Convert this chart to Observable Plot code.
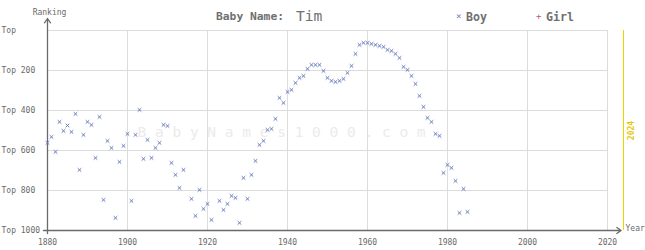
<!DOCTYPE html>
<html><head><meta charset="utf-8">
<script src="https://cdn.jsdelivr.net/npm/d3@7"></script>
<script src="https://cdn.jsdelivr.net/npm/@observablehq/plot@0.6"></script>
<style>
body{margin:0;background:#fff;}
#wrap{position:relative;width:645px;height:250px;font-family:"DejaVu Sans Mono",monospace;}
.t{position:absolute;white-space:nowrap;color:#707070;line-height:14px;}
</style></head><body><div id="wrap"></div>
<script>
const babyName = "Tim";
const currentYear = 2024;
const watermark = "BabyNames1000.com";
const xTicks = [1880, 1900, 1920, 1940, 1960, 1980, 2000, 2020];
const yTicks = [0, 200, 400, 600, 800, 1000];
const yTickLabels = ["Top", "Top 200", "Top 400", "Top 600", "Top 800", "Top 1000"];
const boyYears = [1880,1881,1882,1883,1884,1885,1886,1887,1888,1889,1890,1891,1892,1893,1894,1895,1896,1897,1898,1899,
  1900,1901,1902,1903,1904,1905,1906,1907,1908,1909,1910,1911,1912,1913,1914,1916,1917,1918,1919,
  1920,1921,1923,1924,1925,1926,1927,1928,1929,1930,1931,1932,1933,1934,1935,1936,1937,1938,1939,
  1940,1941,1942,1943,1944,1945,1946,1947,1948,1949,1950,1951,1952,1953,1954,1955,1956,1957,1958,1959,
  1960,1961,1962,1963,1964,1965,1966,1967,1968,1969,1970,1971,1972,1973,1974,1975,1976,1977,1978,1979,
  1980,1981,1982,1983,1984,1985];
const boyRanks = [562,532,607,457,502,475,507,417,697,522,457,472,637,432,847,552,587,937,657,577,
  517,852,522,397,642,547,637,587,562,472,477,662,722,787,697,842,927,797,892,
  867,947,852,897,867,827,837,962,737,842,722,652,572,552,497,492,442,337,362,
  307,297,262,237,227,192,172,172,172,202,237,252,257,252,242,212,177,117,72,62,
  62,67,72,77,82,97,102,117,137,182,197,227,267,327,382,437,457,517,527,712,
  672,687,752,912,792,907];
const girlYears = [];
const girlRanks = [];

const boy = boyYears.map((year, i) => ({year, rank: boyRanks[i]}));
const girl = girlYears.map((year, i) => ({year, rank: girlRanks[i]}));
const boyColor = "#6a7cc0";
const girlColor = "#c05078";
const axisColor = "#6a6a6a";

const chart = Plot.plot({
  width: 645, height: 250,
  marginLeft: 47, marginRight: 38, marginTop: 30, marginBottom: 20,
  style: {fontFamily: "'DejaVu Sans Mono', monospace", fontSize: "8px", color: axisColor, background: "transparent", overflow: "visible"},
  x: {domain: [1880, 2020]},
  y: {domain: [0, 1000], reverse: true},
  marks: [
    Plot.gridX(xTicks, {stroke: "#dcdcdc", strokeOpacity: 1}),
    Plot.gridY(yTicks, {stroke: "#dcdcdc", strokeOpacity: 1}),
    Plot.text([watermark], {frameAnchor: "left", dx: 90, dy: 2, fontSize: 14.5, fill: "#ebebeb", textAnchor: "start", text: d => d.split("").join(" ")}),
    Plot.axisX(xTicks, {tickSize: 0, tickPadding: 9, tickFormat: d => String(d), label: null, fill: axisColor}),
    Plot.axisY(yTicks, {tickSize: 0, tickPadding: 0, textAnchor: "start", dx: -46, tickFormat: d => yTickLabels[yTicks.indexOf(d)], label: null, fill: axisColor}),
    Plot.ruleX([currentYear], {y1: 0, y2: 1000, stroke: "#f0d000", strokeWidth: 1}),
    Plot.text([currentYear], {x: d => d, y: 500, rotate: -90, dx: 8, fill: "#e6c800", fontWeight: "bold", text: d => String(d)}),
    Plot.arrow([0], {x1: 1879, x2: 2023.4, y1: 1000, y2: 1000, stroke: axisColor, strokeWidth: 1.3, headLength: 6, headAngle: 70}),
    Plot.arrow([0], {x1: 1880, x2: 1880, y1: 1015, y2: -60, stroke: axisColor, strokeWidth: 1.3, headLength: 6, headAngle: 70}),
    Plot.dot(boy, {x: "year", y: "rank", symbol: "times", r: 1.8, stroke: boyColor, strokeWidth: 1}),
    Plot.dot(girl, {x: "year", y: "rank", symbol: "plus", r: 1.8, stroke: girlColor, strokeWidth: 1}),
    Plot.text(["Ranking"], {frameAnchor: "top-left", dx: 2, dy: -21, textAnchor: "middle", fill: axisColor}),
    Plot.text(["Year"], {frameAnchor: "bottom-right", dx: 18, textAnchor: "start", fill: axisColor})
  ]
});
const wrap = document.getElementById("wrap");
wrap.appendChild(chart);

function label(text, left, top, size, weight, color) {
  const d = document.createElement("div");
  d.className = "t";
  d.textContent = text;
  d.style.left = left + "px";
  d.style.top = top + "px";
  d.style.fontSize = size + "px";
  d.style.fontWeight = weight;
  if (color) d.style.color = color;
  wrap.appendChild(d);
}
label("Baby Name:", 216, 10, 11.3, "bold");
label(babyName, 296, 9, 14.6, "normal");
label("×", 456, 9, 9, "normal", boyColor);
label("Boy", 466, 10, 11.6, "bold");
label("+", 536, 9, 9, "normal", girlColor);
label("Girl", 546, 10, 11.6, "bold");
</script></body></html>
